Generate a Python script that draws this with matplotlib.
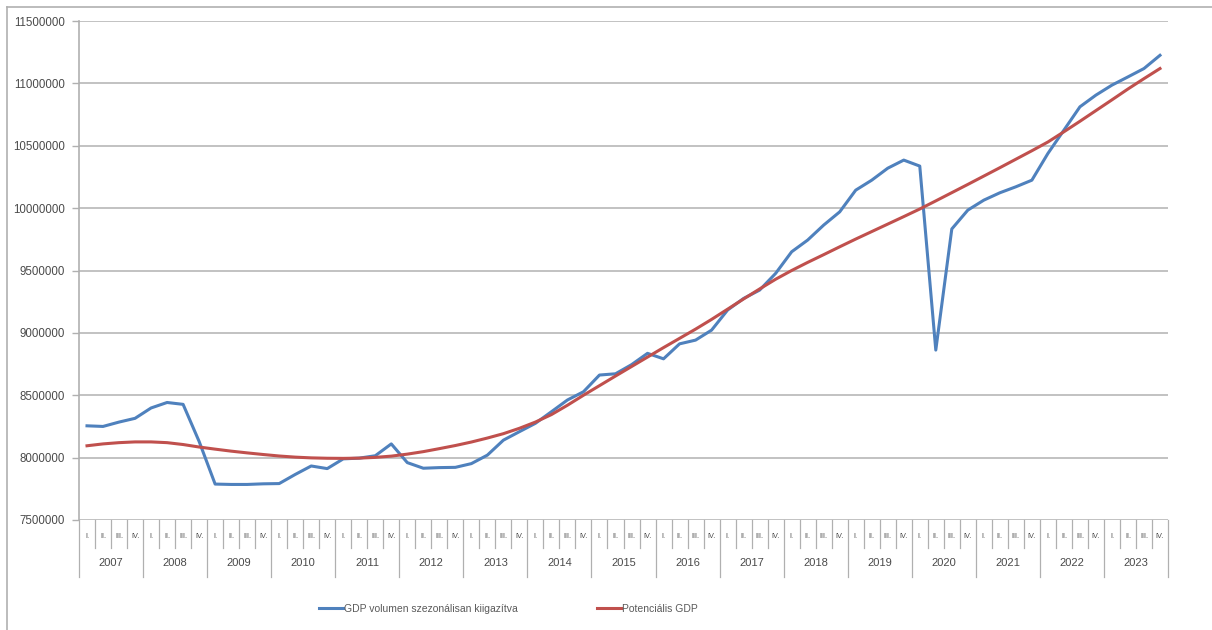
import matplotlib
matplotlib.use("Agg")
import matplotlib.pyplot as plt
import matplotlib.transforms as mtransforms
from matplotlib.lines import Line2D

plt.rcParams['font.family'] = ['Liberation Sans', 'DejaVu Sans']

years = [str(y) for y in range(2007, 2024)]
quarters = ["I.", "II.", "III.", "IV."]

gdp = [
    8255000, 8250000, 8285000, 8315000,      # 2007
    8398000, 8442000, 8427000, 8130000,      # 2008
    7788000, 7785000, 7785000, 7790000,      # 2009
    7792000, 7865000, 7933000, 7912000,      # 2010
    7990000, 7996000, 8015000, 8110000,      # 2011
    7960000, 7915000, 7920000, 7922000,      # 2012
    7952000, 8020000, 8140000, 8208000,      # 2013
    8275000, 8368000, 8462000, 8528000,      # 2014
    8662000, 8672000, 8745000, 8836000,      # 2015
    8792000, 8912000, 8942000, 9022000,      # 2016
    9183000, 9276000, 9343000, 9477000,      # 2017
    9650000, 9744000, 9864000, 9970000,      # 2018
    10144000, 10224000, 10320000, 10385000,  # 2019
    10337000, 8862000, 9833000, 9984000,     # 2020
    10064000, 10123000, 10171000, 10224000,  # 2021
    10438000, 10625000, 10812000, 10906000,  # 2022
    10986000, 11052000, 11119000, 11225000,  # 2023
]

potential = [
    8095000, 8110000, 8120000, 8126000,      # 2007
    8126000, 8120000, 8105000, 8085000,      # 2008
    8068000, 8052000, 8038000, 8025000,      # 2009
    8013000, 8004000, 7998000, 7995000,      # 2010
    7994000, 7996000, 8002000, 8012000,      # 2011
    8028000, 8048000, 8072000, 8097000,      # 2012
    8125000, 8157000, 8192000, 8235000,      # 2013
    8285000, 8345000, 8420000, 8500000,      # 2014
    8577000, 8654000, 8730000, 8806000,      # 2015
    8882000, 8956000, 9030000, 9108000,      # 2016
    9190000, 9272000, 9352000, 9430000,      # 2017
    9500000, 9565000, 9627000, 9690000,      # 2018
    9752000, 9812000, 9872000, 9932000,      # 2019
    9993000, 10058000, 10124000, 10190000,   # 2020
    10257000, 10324000, 10392000, 10460000,  # 2021
    10530000, 10612000, 10696000, 10782000,  # 2022
    10868000, 10955000, 11038000, 11119000,  # 2023
]

labels = ["GDP volumen szezonálisan kiigazítva", "Potenciális GDP"]
colors = ["#4F81BD", "#C0504D"]

W, H = 1212, 630
fig = plt.figure(figsize=(W / 100, H / 100), dpi=100)
fig.patch.set_facecolor("white")

# chart area border (top and left edges)
fig.add_artist(Line2D([7 / W, 7 / W], [0, 1 - 7 / H], color="#b0b0b0", lw=1.2))
fig.add_artist(Line2D([7 / W, 1], [1 - 7 / H, 1 - 7 / H], color="#b0b0b0", lw=1.2))

left, right, top, bottom = 79, 1168, 21, 520
ax = fig.add_axes([left / W, 1 - bottom / H, (right - left) / W, (bottom - top) / H])

n = len(gdp)
x = list(range(n))

ax.plot(x, gdp, color=colors[0], lw=2.2, label=labels[0], zorder=3)
ax.plot(x, potential, color=colors[1], lw=2.2, label=labels[1], zorder=3)

ax.set_xlim(-0.5, n - 0.5)
ax.set_ylim(7500000, 11500000)
yt = list(range(7500000, 11500001, 500000))
ax.set_yticks(yt)
ax.set_yticklabels([str(v) for v in yt], fontsize=8.3, color="#4a4a4a")
ax.tick_params(axis="y", length=5, width=1, color="#b0b0b0", pad=5)
ax.set_xticks([])
ax.grid(axis="y", color="#bdbdbd", lw=1.3, zorder=0)

for s in ["top", "right", "bottom"]:
    ax.spines[s].set_visible(False)
ax.spines["left"].set_color("#b0b0b0")
ax.spines["left"].set_linewidth(1.2)

# multi-level category axis: quarters and years
trans = mtransforms.blended_transform_factory(ax.transData, ax.transAxes)
ph = bottom - top
q_len = 28 / ph
y_len = 57 / ph
for i in range(n + 1):
    is_year = (i % 4 == 0)
    ln = y_len if is_year else q_len
    ax.plot([i - 0.5, i - 0.5], [0, -ln], transform=trans, color="#b0b0b0",
            lw=0.9, clip_on=False)
for i in range(n):
    ax.text(i, -17 / ph, quarters[i % 4], transform=trans, ha="center",
            va="center", fontsize=5.3, color="#4a4a4a", clip_on=False)
for k, yr in enumerate(years):
    ax.text(4 * k + 1.5, -43 / ph, yr, transform=trans, ha="center",
            va="center", fontsize=8, color="#4a4a4a", clip_on=False)

leg = fig.legend(loc="center", bbox_to_anchor=(508 / W, 1 - 609 / H), ncol=2,
                 frameon=False, fontsize=7.5, handlelength=2.3,
                 handletextpad=0.1, columnspacing=7.6)
for t in leg.get_texts():
    t.set_color("#5a5a5a")

fig.savefig("out.png", dpi=100, facecolor="white")
